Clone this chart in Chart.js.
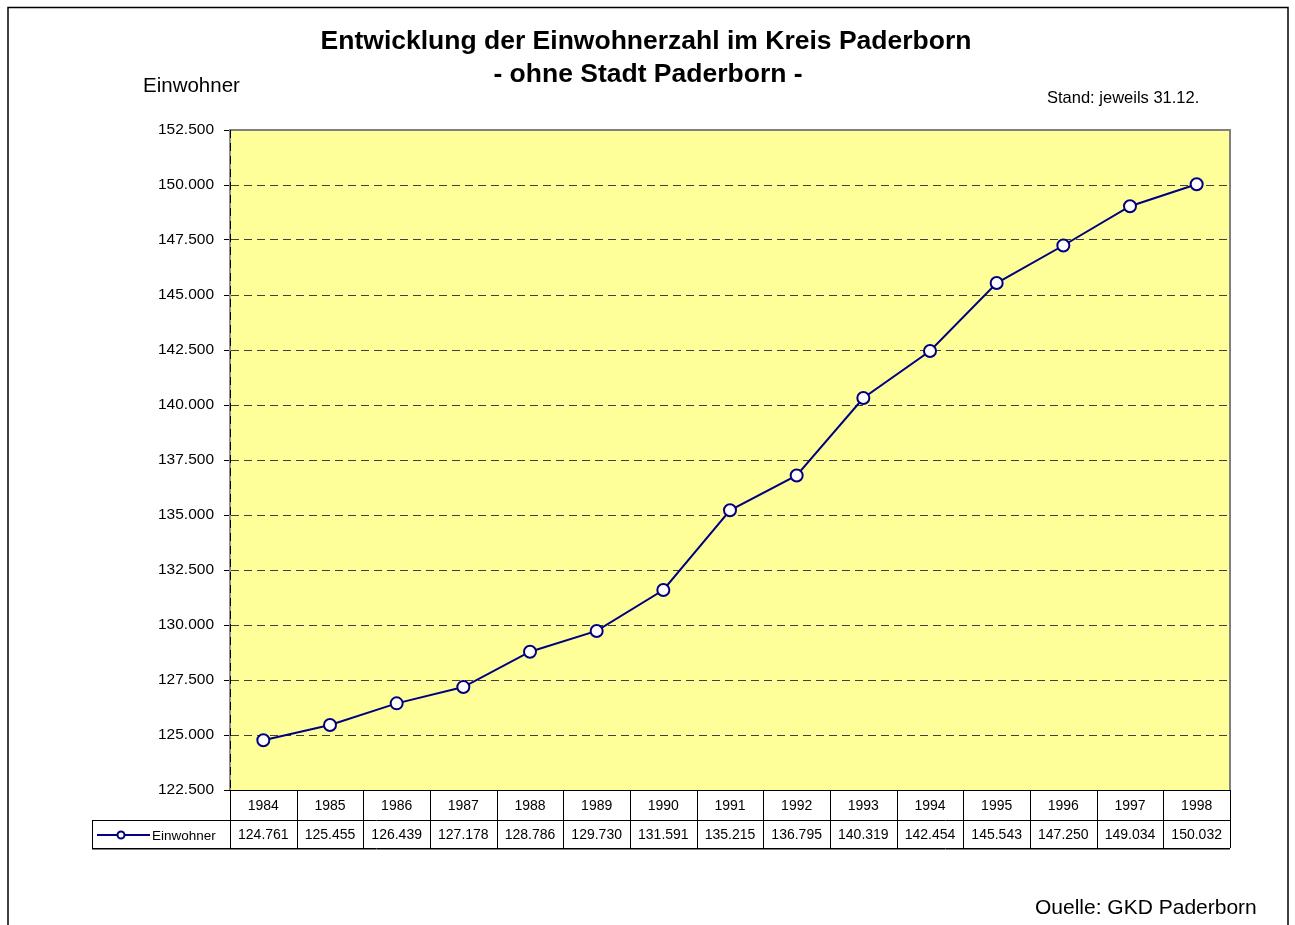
<!DOCTYPE html>
<html lang="de">
<head>
<meta charset="utf-8">
<title>Entwicklung der Einwohnerzahl im Kreis Paderborn</title>
<script src="https://cdn.jsdelivr.net/npm/chart.js@4/dist/chart.umd.min.js"></script>
<style>
  html, body { margin: 0; padding: 0; background: #fff; }
  #wrap { width: 1295px; height: 925px; position: relative; }
</style>
</head>
<body>
<div id="wrap"><canvas id="chart"></canvas></div>
<script>
const years = ['1984', '1985', '1986', '1987', '1988', '1989', '1990', '1991',
  '1992', '1993', '1994', '1995', '1996', '1997', '1998'];
const einwohner = [124761, 125455, 126439, 127178, 128786, 129730, 131591, 135215,
  136795, 140319, 142454, 145543, 147250, 149034, 150032];
const seriesName = 'Einwohner';
const yMin = 122500;
const yMax = 152500;
const yStep = 2500;

const FONT = '"Liberation Sans", Arial, sans-serif';
const NAVY = '#000080';

function fmt (v) {
  return Math.round(v).toString().replace(/\B(?=(\d{3})+(?!\d))/g, '.');
}

const frame = {
  id: 'frame',
  beforeDraw (chart) {
    const ctx = chart.ctx, a = chart.chartArea;
    ctx.save();
    ctx.fillStyle = '#FFFF99';
    ctx.fillRect(a.left, a.top, a.right - a.left, a.bottom - a.top);
    ctx.restore();
  },
  afterDraw (chart) {
    const ctx = chart.ctx, a = chart.chartArea, x = chart.scales.x;
    ctx.save();

    // outer frame
    ctx.strokeStyle = '#000';
    ctx.lineWidth = 1.5;
    ctx.beginPath();
    ctx.moveTo(8, 930); ctx.lineTo(8, 7.5); ctx.lineTo(1288, 7.5); ctx.lineTo(1288, 930);
    ctx.stroke();

    // plot border (top, right)
    ctx.strokeStyle = '#808080';
    ctx.lineWidth = 2;
    ctx.beginPath();
    ctx.moveTo(a.left, a.top); ctx.lineTo(a.right, a.top); ctx.lineTo(a.right, a.bottom);
    ctx.stroke();

    // dashed axis line over the grey left border
    ctx.strokeStyle = '#000';
    ctx.lineWidth = 1;
    ctx.setLineDash([8, 5]);
    ctx.beginPath();
    ctx.moveTo(a.left + 0.5, a.top); ctx.lineTo(a.left + 0.5, a.bottom);
    ctx.stroke();
    ctx.setLineDash([]);

    // data table
    const r1 = a.bottom, r2 = r1 + 30, r3 = r2 + 28, legL = 92;
    const colW = x.getPixelForValue(1) - x.getPixelForValue(0);
    ctx.strokeStyle = '#000';
    ctx.lineWidth = 1;
    ctx.beginPath();
    ctx.moveTo(a.left - 6, r1 + 0.5); ctx.lineTo(a.right, r1 + 0.5);
    ctx.moveTo(legL, r2 + 0.5); ctx.lineTo(a.right, r2 + 0.5);
    ctx.moveTo(legL, r3 + 0.5); ctx.lineTo(a.right, r3 + 0.5);
    ctx.moveTo(legL + 0.5, r2); ctx.lineTo(legL + 0.5, r3);
    for (let i = 0; i <= years.length; i++) {
      const px = i < years.length ? Math.round(x.getPixelForValue(i) - colW / 2) : Math.round(a.right);
      ctx.moveTo(px + 0.5, r1); ctx.lineTo(px + 0.5, r3);
    }
    ctx.stroke();
    ctx.strokeStyle = '#808080';
    ctx.beginPath();
    ctx.moveTo(legL, r3 + 1.5); ctx.lineTo(a.right, r3 + 1.5);
    ctx.stroke();

    ctx.fillStyle = '#000';
    ctx.font = '14px ' + FONT;
    ctx.textAlign = 'center';
    ctx.textBaseline = 'middle';
    years.forEach((y, i) => {
      const px = x.getPixelForValue(i);
      ctx.fillText(y, px, (r1 + r2) / 2 + 1);
      ctx.fillText(fmt(einwohner[i]), px, (r2 + r3) / 2 + 1);
    });

    // legend key
    const ly = (r2 + r3) / 2 + 1;
    ctx.strokeStyle = NAVY;
    ctx.lineWidth = 2;
    ctx.beginPath();
    ctx.moveTo(97, ly); ctx.lineTo(150, ly);
    ctx.stroke();
    ctx.beginPath();
    ctx.arc(121, ly, 3.5, 0, Math.PI * 2);
    ctx.fillStyle = '#fff';
    ctx.fill();
    ctx.stroke();
    ctx.fillStyle = '#000';
    ctx.textAlign = 'left';
    ctx.font = '13.5px ' + FONT;
    ctx.fillText(seriesName, 152, ly + 1);

    // texts
    ctx.textAlign = 'center';
    ctx.textBaseline = 'alphabetic';
    ctx.font = 'bold 26.5px ' + FONT;
    ctx.fillText('Entwicklung der Einwohnerzahl im Kreis Paderborn', 646, 49);
    ctx.fillText('- ohne Stadt Paderborn -', 648, 82);

    ctx.textAlign = 'left';
    ctx.font = '20.5px ' + FONT;
    ctx.fillText('Einwohner', 143, 92);
    ctx.font = '21px ' + FONT;
    ctx.fillText('Ouelle: GKD Paderborn', 1035, 914);
    ctx.font = '16.5px ' + FONT;
    ctx.fillText('Stand: jeweils 31.12.', 1047, 103);

    ctx.restore();
  }
};

new Chart(document.getElementById('chart'), {
  type: 'line',
  data: {
    labels: years,
    datasets: [{
      label: seriesName,
      data: einwohner,
      borderColor: NAVY,
      borderWidth: 2,
      backgroundColor: '#fff',
      pointBackgroundColor: '#fff',
      pointBorderColor: NAVY,
      pointBorderWidth: 2,
      pointRadius: 6,
      tension: 0
    }]
  },
  options: {
    responsive: true,
    maintainAspectRatio: false,
    animation: false,
    layout: { padding: { left: 0, top: 130, right: 65, bottom: 135 } },
    plugins: { legend: { display: false }, tooltip: { enabled: false }, title: { display: false } },
    scales: {
      x: {
        type: 'category',
        offset: true,
        display: false
      },
      y: {
        min: yMin,
        max: yMax,
        afterFit (scale) { scale.width = 230; },
        ticks: {
          stepSize: yStep,
          color: '#000',
          font: { family: FONT, size: 15.5 },
          padding: 10,
          callback: (v) => fmt(v)
        },
        grid: {
          color: (c) => (c.tick && (c.tick.value === yMax || c.tick.value === yMin)) ? 'rgba(0,0,0,0)' : '#404040',
          lineWidth: 1,
          drawTicks: true,
          tickLength: 6,
          tickColor: '#000',
          tickBorderDash: []
        },
        border: { display: true, color: '#909090', width: 2, dash: [8, 5] }
      }
    }
  },
  plugins: [frame]
});
</script>
</body>
</html>
